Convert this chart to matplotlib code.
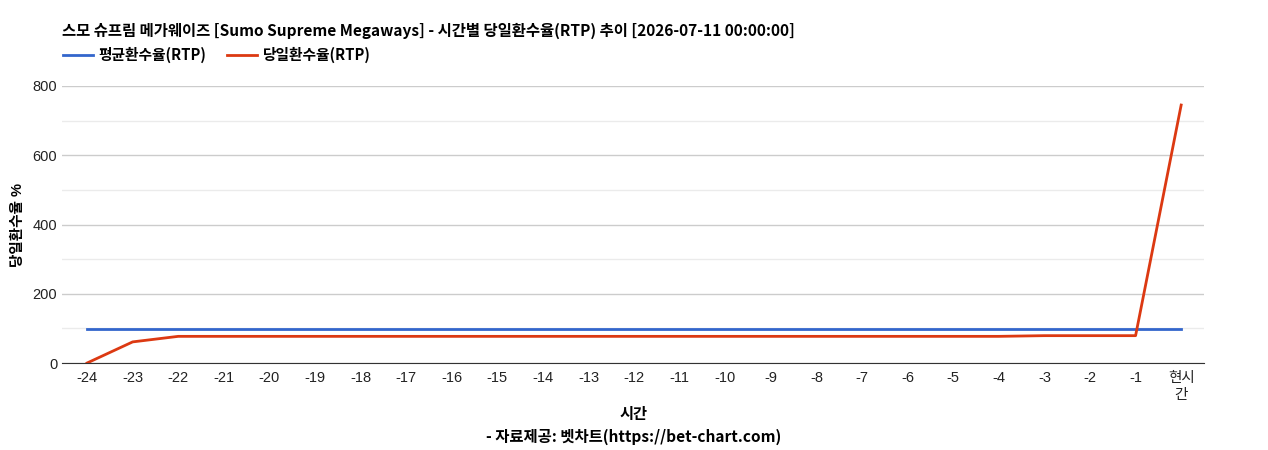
import numpy as np
import matplotlib.pyplot as plt

plt.rcParams['font.family'] = ['Liberation Sans', 'Noto Sans CJK KR']

# ── Datos ─────────────────────────────────────────────────────────────────────
labels = ['-24', '-23', '-22', '-21', '-20', '-19', '-18', '-17', '-16', '-15',
          '-14', '-13', '-12', '-11', '-10', '-9', '-8', '-7', '-6', '-5',
          '-4', '-3', '-2', '-1', '현시\n간']
avg_rtp = [97] * 25
day_rtp = [0, 61, 77, 77, 77, 77, 77, 77, 77, 77,
           77, 77, 77, 77, 77, 77, 77, 77, 77, 77,
           77, 79, 79, 79, 745]

x = np.arange(len(labels))

fig = plt.figure(figsize=(12.68, 4.5), dpi=100)
ax = fig.add_axes([0.0489, 0.1933, 0.9006, 0.6156])

ax.plot(x, avg_rtp, color='#3366cc', lw=2, label='평균환수율(RTP)')
ax.plot(x, day_rtp, color='#dc3912', lw=2, label='당일환수율(RTP)')

ax.set_xlim(-0.55, 24.5)
ax.set_ylim(0, 800)
ax.set_xticks(x)
ax.set_xticklabels(labels, fontsize=10.5, color='#222222')
ax.set_yticks([0, 200, 400, 600, 800])
ax.set_yticks([100, 300, 500, 700], minor=True)
ax.tick_params(axis='y', labelsize=10.5, colors='#222222', length=0, which='both')
ax.tick_params(axis='x', length=0, pad=6)
ax.grid(True, axis='y', which='major', color='#cccccc', lw=1)
ax.grid(True, axis='y', which='minor', color='#ebebeb', lw=1)
ax.set_axisbelow(True)
for s in ['top', 'right', 'left']:
    ax.spines[s].set_visible(False)
ax.spines['bottom'].set_color('#333333')

ax.set_ylabel('당일환수율 %', fontsize=10.5, fontweight='bold')
ax.yaxis.set_label_coords(-0.032, 0.5)

fig.text(0.0489, 0.932, '스모 슈프림 메가웨이즈 [Sumo Supreme Megaways] - 시간별 당일환수율(RTP) 추이 [2026-07-11 00:00:00]',
         fontsize=11.1, fontweight='bold', ha='left', va='center', color='#000000',
         family=['Noto Sans CJK KR'])
ax.legend(loc='upper left', bbox_to_anchor=(-0.011, 1.19), ncol=2, frameon=False,
          handlelength=2.05, handletextpad=0.4, columnspacing=1.4,
          prop={'weight': 'bold', 'size': 10.6, 'family': ['Noto Sans CJK KR']})

fig.text(0.5, 0.08, '시간', fontsize=11, fontweight='bold', ha='center', va='center',
         family=['Noto Sans CJK KR'])
fig.text(0.5, 0.029, '- 자료제공: 벳차트(https://bet-chart.com)', fontsize=11.1,
         fontweight='bold', ha='center', va='center', family=['Noto Sans CJK KR'])

plt.savefig('out.png', dpi=100)
